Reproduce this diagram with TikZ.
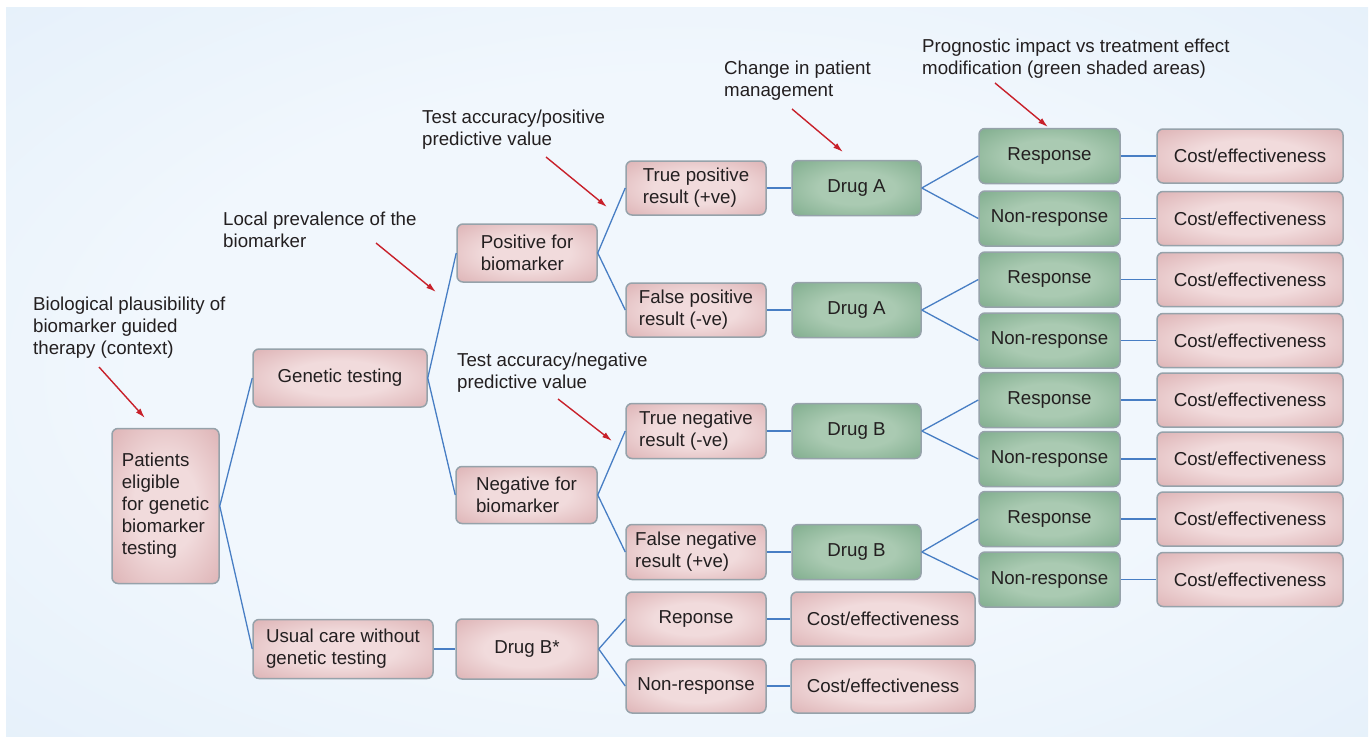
\documentclass[tikz,border=0pt]{standalone}
\usepackage{fontspec}
\setmainfont{Liberation Sans}
\usetikzlibrary{arrows.meta}
\definecolor{bgin}{RGB}{241,247,253}
\definecolor{bgout}{RGB}{205,226,244}
\definecolor{pinkin}{RGB}{241,219,220}
\definecolor{pinkout}{RGB}{208,152,155}
\definecolor{greenin}{RGB}{170,202,178}
\definecolor{greenout}{RGB}{100,154,117}
\definecolor{bordc}{RGB}{150,162,170}
\definecolor{lineblue}{RGB}{72,126,196}
\definecolor{arrowred}{RGB}{200,32,42}
\definecolor{textc}{RGB}{35,31,32}
\pgfdeclareradialshading{bgshade}{\pgfpoint{0bp}{0bp}}{color(0bp)=(bgin); color(20bp)=(bgin); color(71bp)=(bgout)}
\pgfdeclareradialshading{pinkglow}{\pgfpoint{0bp}{0bp}}{color(0bp)=(pinkin); color(15bp)=(pinkin); color(50bp)=(pinkout); color(72bp)=(pinkout)}
\pgfdeclareradialshading{greenglow}{\pgfpoint{0bp}{0bp}}{color(0bp)=(greenin); color(15bp)=(greenin); color(50bp)=(greenout); color(72bp)=(greenout)}
\newcommand\figfont{\fontsize{18.7}{22}\selectfont}
\begin{document}
\begin{tikzpicture}[x=1pt,y=-1pt,
  box/.style={draw=bordc, line width=1.5pt, rounded corners=6pt, inner sep=0pt,
    align=center, text=textc, font=\figfont},
  pinkbox/.style={box, shade, shading=pinkglow},
  greenbox/.style={box, shade, shading=greenglow},
  colA/.style={minimum width=140pt, minimum height=54pt},
  drugcol/.style={minimum width=129pt, minimum height=55pt},
  respcol/.style={minimum width=141pt, minimum height=55pt},
  costcol/.style={minimum width=186pt, minimum height=54pt},
  conn/.style={draw=lineblue, line width=1.3pt},
  note/.style={anchor=north west, inner sep=0pt, align=left, text=textc, font=\figfont},
  pointer/.style={draw=arrowred, line width=1.4pt, -{Latex[length=10pt,width=6pt]}}]
\useasboundingbox (0,0) rectangle (1372,736);
\shade[shading=bgshade] (6,7) rectangle (1368,736);

% level 1
\node[pinkbox, align=left, minimum width=107pt, minimum height=155pt] (pat) at (165.5,506) {Patients\\eligible\\for genetic\\biomarker\\testing};
% level 2
\node[pinkbox, minimum width=174pt, minimum height=58pt] (gen) at (340,378) {Genetic testing};
\node[pinkbox, align=left, minimum width=180pt, minimum height=59pt] (usual) at (343,649) {Usual care without\\genetic testing};
% level 3
\node[pinkbox, align=left, minimum width=140pt, minimum height=58pt] (pos) at (527,253) {Positive for\\biomarker};
\node[pinkbox, align=left, minimum width=141pt, minimum height=57pt] (neg) at (526.5,495) {Negative for\\biomarker};
\node[pinkbox, minimum width=142pt, minimum height=60pt] (dbs) at (527,649) {Drug B*};
% level 4
\node[pinkbox, colA, align=left] (tp) at (696,188) {True positive\\result (+ve)};
\node[pinkbox, colA, align=left] (fp) at (696,310) {False positive\\result (-ve)};
\node[pinkbox, colA, align=left, minimum height=55pt] (tn) at (696,431) {True negative\\result (-ve)};
\node[pinkbox, colA, align=left, minimum height=55pt] (fn) at (696,552) {False negative\\result (+ve)};
\node[pinkbox, colA] (rp) at (696,619) {Reponse};
\node[pinkbox, colA] (nr) at (696,686) {Non-response};
% level 5
\node[greenbox, drugcol] (da1) at (856.5,188) {Drug A};
\node[greenbox, drugcol] (da2) at (856.5,310) {Drug A};
\node[greenbox, drugcol] (db1) at (856.5,431) {Drug B};
\node[greenbox, drugcol] (db2) at (856.5,552) {Drug B};
\node[pinkbox, minimum width=184pt, minimum height=54pt] (cr) at (883,619) {Cost/effectiveness};
\node[pinkbox, minimum width=184pt, minimum height=54pt] (cn) at (883,686) {Cost/effectiveness};
% level 6 and 7
\node[greenbox, respcol] (r1) at (1049.5,156) {Response};
\node[greenbox, respcol] (n1) at (1049.5,218.5) {Non-response};
\node[greenbox, respcol] (r2) at (1049.5,279.5) {Response};
\node[greenbox, respcol] (n2) at (1049.5,340.5) {Non-response};
\node[greenbox, respcol] (r3) at (1049.5,400) {Response};
\node[greenbox, respcol] (n3) at (1049.5,459) {Non-response};
\node[greenbox, respcol] (r4) at (1049.5,519) {Response};
\node[greenbox, respcol] (n4) at (1049.5,579.5) {Non-response};
\node[pinkbox, costcol] (c1) at (1250,156) {Cost/effectiveness};
\node[pinkbox, costcol] (c2) at (1250,218.5) {Cost/effectiveness};
\node[pinkbox, costcol] (c3) at (1250,279.5) {Cost/effectiveness};
\node[pinkbox, costcol] (c4) at (1250,340.5) {Cost/effectiveness};
\node[pinkbox, costcol] (c5) at (1250,400) {Cost/effectiveness};
\node[pinkbox, costcol] (c6) at (1250,459) {Cost/effectiveness};
\node[pinkbox, costcol] (c7) at (1250,519) {Cost/effectiveness};
\node[pinkbox, costcol] (c8) at (1250,579.5) {Cost/effectiveness};

% connectors
\draw[conn] (pat.east) -- (gen.west);
\draw[conn] (pat.east) -- (usual.west);
\draw[conn] (gen.east) -- (pos.west);
\draw[conn] (gen.east) -- (neg.west);
\draw[conn] (pos.east) -- (tp.west);
\draw[conn] (pos.east) -- (fp.west);
\draw[conn] (neg.east) -- (tn.west);
\draw[conn] (neg.east) -- (fn.west);
\draw[conn] (tp.east) -- (da1.west);
\draw[conn] (fp.east) -- (da2.west);
\draw[conn] (tn.east) -- (db1.west);
\draw[conn] (fn.east) -- (db2.west);
\draw[conn] (da1.east) -- (r1.west);
\draw[conn] (da1.east) -- (n1.west);
\draw[conn] (da2.east) -- (r2.west);
\draw[conn] (da2.east) -- (n2.west);
\draw[conn] (db1.east) -- (r3.west);
\draw[conn] (db1.east) -- (n3.west);
\draw[conn] (db2.east) -- (r4.west);
\draw[conn] (db2.east) -- (n4.west);
\draw[conn] (r1.east) -- (c1.west);
\draw[conn] (n1.east) -- (c2.west);
\draw[conn] (r2.east) -- (c3.west);
\draw[conn] (n2.east) -- (c4.west);
\draw[conn] (r3.east) -- (c5.west);
\draw[conn] (n3.east) -- (c6.west);
\draw[conn] (r4.east) -- (c7.west);
\draw[conn] (n4.east) -- (c8.west);
\draw[conn] (usual.east) -- (dbs.west);
\draw[conn] (dbs.east) -- (rp.west);
\draw[conn] (dbs.east) -- (nr.west);
\draw[conn] (rp.east) -- (cr.west);
\draw[conn] (nr.east) -- (cn.west);

% annotations
\node[note] (t1) at (33,297) {Biological plausibility of\\biomarker guided\\therapy (context)};
\node[note] (t2) at (223,212) {Local prevalence of the\\biomarker};
\node[note] (t3) at (422,110) {Test accuracy/positive\\predictive value};
\node[note] (t4) at (724,61) {Change in patient\\management};
\node[note] (t5) at (922,39) {Prognostic impact vs treatment effect\\modification (green shaded areas)};
\node[note] (t6) at (457,353) {Test accuracy/negative\\predictive value};

\coordinate (a1s) at (99,367);   \coordinate (a1e) at (145,418);
\coordinate (a2s) at (376,243);  \coordinate (a2e) at (436,292);
\coordinate (a3s) at (546,157);  \coordinate (a3e) at (607,207);
\coordinate (a4s) at (792,109);  \coordinate (a4e) at (843,152);
\coordinate (a5s) at (995,83);   \coordinate (a5e) at (1048,127);
\coordinate (a6s) at (558,399);  \coordinate (a6e) at (612,441);
\draw[pointer] (a1s) -- (a1e);
\draw[pointer] (a2s) -- (a2e);
\draw[pointer] (a3s) -- (a3e);
\draw[pointer] (a4s) -- (a4e);
\draw[pointer] (a5s) -- (a5e);
\draw[pointer] (a6s) -- (a6e);
\end{tikzpicture}
\end{document}
